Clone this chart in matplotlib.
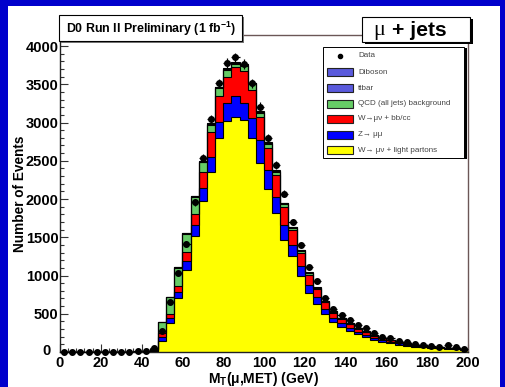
import numpy as np
import matplotlib
matplotlib.use("Agg")
import matplotlib.pyplot as plt
from matplotlib.patches import Rectangle
from matplotlib.ticker import MultipleLocator, FuncFormatter

plt.rcParams['font.family'] = ['Liberation Sans', 'DejaVu Sans']
plt.rcParams['mathtext.fontset'] = 'custom'
plt.rcParams['mathtext.rm'] = 'Liberation Sans'
plt.rcParams['mathtext.bf'] = 'Liberation Sans:bold'

# 4 GeV bins from 0 to 200 GeV
bin_edges = np.arange(0, 201, 4)

# Observed events per bin
data_counts = [4, 3, 5, 3, 4, 6, 5, 4, 6, 8, 12, 50, 272, 655, 1030, 1410, 1955, 2535,
               3040, 3510, 3780, 3850, 3765, 3510, 3205, 2795, 2445, 2072, 1703, 1398,
               1105, 925, 710, 565, 484, 418, 353, 310, 244, 200, 185, 146, 125, 100,
               96, 78, 70, 85, 62, 38]

# Expected contributions, listed from bottom of the stack to the top
w_light = [0] * 11 + [10, 150, 380, 700, 1070, 1515, 1970, 2357, 2793, 3023, 3075, 3032,
                      2793, 2474, 2128, 1813, 1464, 1255, 1000, 770, 625, 495, 393, 327,
                      276, 232, 196, 160, 134, 116, 98, 83, 71, 62, 53, 46, 40, 35, 29]
z_mumu = [0] * 11 + [5, 45, 62, 80, 125, 145, 170, 196, 217, 227, 271, 218, 261, 297, 251,
                     217, 196, 143, 120, 105, 88, 70, 56, 47, 40, 34, 29, 23, 20, 17, 14,
                     12, 10, 9, 8, 7, 6, 5, 4]
w_bbcc = [0] * 11 + [5, 50, 55, 85, 110, 150, 210, 327, 336, 348, 375, 427, 370, 304, 283,
                     283, 239, 197, 180, 135, 105, 83, 66, 55, 46, 39, 33, 27, 23, 20, 17,
                     14, 12, 10, 9, 7, 6, 6, 5]
qcd = [0] * 11 + [25, 145, 218, 235, 240, 215, 130, 90, 100, 90, 40, 60, 75, 50, 60, 40,
                  30, 22, 20, 18, 15, 12, 10, 9, 7, 6, 5, 4, 4, 3, 3, 2, 2, 2, 2, 1, 1, 1, 1]
ttbar = [0] * 11 + [0, 3, 4, 5, 6, 8, 10, 12, 14, 15, 16, 16, 16, 15, 14, 14, 13, 12, 11,
                    10, 9, 8, 7, 6, 5, 4, 4, 3, 3, 2, 2, 2, 2, 1, 1, 1, 1, 1, 1]
diboson = [0] * 11 + [0, 1, 2, 3, 4, 5, 6, 7, 8, 8, 8, 8, 8, 7, 7, 6, 5, 5, 4, 4, 3, 3, 2,
                      2, 2, 2, 1, 1, 1, 1, 1, 1, 1, 1, 0, 0, 0, 0, 0]

stack_components = [w_light, z_mumu, w_bbcc, qcd, ttbar, diboson]
stack_colors = ['#ffff00', '#0000ff', '#ff0000', '#66cc66', '#5a5adc', '#5a5adc']

legend_labels = ['Data', 'Diboson', 'ttbar', 'QCD (all jets) background',
                 'W\u2192\u03bc\u03bd + bb/cc', 'Z\u2192 \u03bc\u03bc',
                 'W\u2192 \u03bc\u03bd + light partons']
legend_colors = [None, '#5a5adc', '#5a5adc', '#66cc66', '#ff0000', '#0000ff', '#ffff00']

W, H = 505, 387
fig = plt.figure(figsize=(W / 100, H / 100), dpi=100)
fig.patch.set_facecolor('#0000cc')
fig.patches.append(Rectangle((8 / W, 0), (500 - 8) / W, (H - 6) / H,
                             transform=fig.transFigure, facecolor='white',
                             edgecolor='none', zorder=-5))

ax = fig.add_axes([60 / W, (H - 352) / H, (468 - 60) / W, (352 - 35) / H])
ax.set_facecolor('white')

# stacked histogram: draw cumulative sums from the top down
cum = np.cumsum(np.array(stack_components, dtype=float), axis=0)
for level in range(len(stack_components) - 1, -1, -1):
    ax.stairs(cum[level], bin_edges, fill=True, color=stack_colors[level], zorder=2)
    ax.stairs(cum[level], bin_edges, fill=False, color='black', lw=0.8, zorder=3)

centers = 0.5 * (bin_edges[:-1] + bin_edges[1:])
counts = np.array(data_counts, dtype=float)
ax.errorbar(centers, counts, yerr=np.sqrt(counts), xerr=2, fmt='o', color='black',
            ms=4, lw=0.9, capsize=0, zorder=5, clip_on=False)

ax.set_xlim(0, 200)
ax.set_ylim(0, 4144)
ax.xaxis.set_major_locator(MultipleLocator(20))
ax.xaxis.set_minor_locator(MultipleLocator(4))
ax.yaxis.set_major_locator(MultipleLocator(500))
ax.yaxis.set_minor_locator(MultipleLocator(100))
# the y-axis zero is written separately, tucked left of the x-axis zero
ax.yaxis.set_major_formatter(FuncFormatter(lambda v, p: '' if v == 0 else f'{v:.0f}'))
ax.tick_params(which='both', direction='in', top=False, right=False, labelsize=10.5,
               width=0.8, color='#333333')
ax.tick_params(which='major', length=6)
ax.tick_params(which='minor', length=3)
ax.tick_params(axis='y', pad=1)
ax.tick_params(axis='x', pad=3)
for lab in ax.get_xticklabels() + ax.get_yticklabels():
    lab.set_fontweight('bold')
ax.text(-0.022, 0.004, '0', transform=ax.transAxes, ha='right', va='center',
        fontsize=10.5, fontweight='bold')
for side in ['left', 'bottom']:
    ax.spines[side].set_color('#222222')
for side in ['top', 'right']:
    ax.spines[side].set_color('#6b5757')
for sp in ax.spines.values():
    sp.set_linewidth(1.0)

ax.set_xlabel('M$_\\mathbf{T}$(\u03bc,MET) (GeV)', fontsize=10, fontweight='bold', labelpad=0)
ax.set_ylabel('Number of Events', fontsize=9.8, fontweight='bold', labelpad=-1)

# overlay in pixel coordinates for the boxes
ov = fig.add_axes([0, 0, 1, 1], zorder=10)
ov.set_xlim(0, W)
ov.set_ylim(H, 0)
ov.axis('off')


def shadow_box(x0, y0, x1, y1, shadow='black', dx=3, dy=2, lw=1.0):
    ov.add_patch(Rectangle((x0 + dx, y0 + dy), x1 - x0, y1 - y0, facecolor=shadow,
                           edgecolor='none'))
    ov.add_patch(Rectangle((x0, y0), x1 - x0, y1 - y0, facecolor='white',
                           edgecolor='black', lw=lw))


shadow_box(59, 15, 242, 41, shadow='#777777', dx=2, dy=2, lw=0.8)
ov.text(151, 29, 'D0 Run II Preliminary (1 fb$^{\\mathbf{-1}}$)', fontsize=8.9,
        fontweight='bold', ha='center', va='center')

shadow_box(362, 17, 470, 42, shadow='black', dx=3, dy=2, lw=0.8)
ov.text(379, 31, '\u03bc', fontsize=16, family=['Liberation Serif', 'DejaVu Serif'],
        ha='center', va='center')
ov.text(392, 30.5, '+ jets', fontsize=15.2, fontweight='bold', ha='left', va='center')

# legend
shadow_box(323, 47, 464, 158, shadow='black', dx=3, dy=1, lw=0.7)
row_y = [55.5, 72, 88, 103.5, 119, 135, 150]
for lab, col, yy in zip(legend_labels, legend_colors, row_y):
    if col is None:
        ov.plot([340], [yy], 'o', color='black', ms=3)
    else:
        ov.add_patch(Rectangle((327, yy - 4), 26, 8, facecolor=col, edgecolor='#222222',
                               lw=0.8))
    ov.text(358, yy, lab, fontsize=5.8, color='#444444', ha='left', va='center')

fig.savefig('out.png', dpi=100)
